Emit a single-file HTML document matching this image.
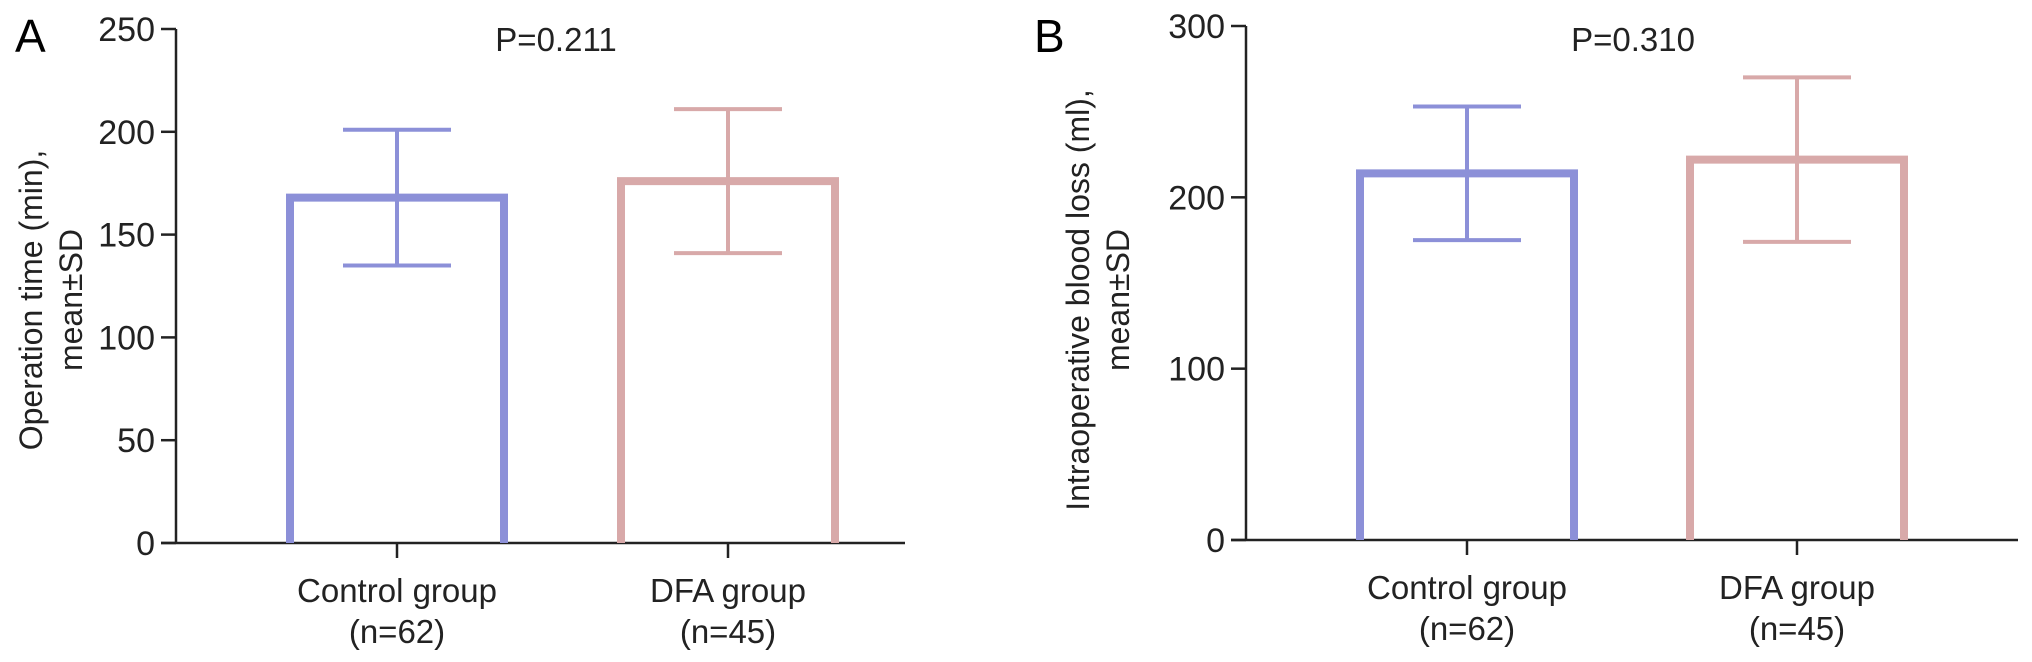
<!DOCTYPE html>
<html><head><meta charset="utf-8"><style>
body{margin:0;background:#fff;}
svg{display:block;font-family:"Liberation Sans",Arial,sans-serif;}
</style></head><body>
<svg id="fig" width="2032" height="662"></svg>
<script>
const categories=["Control group","DFA group"];
const nLabels=["(n=62)","(n=45)"];
const opMeans=[168,176];
const opSD=[33,35];
const opTicks=[0,50,100,150,200,250];
const blMeans=[214,222];
const blSD=[39,48];
const blTicks=[0,100,200,300];
const colors=["#8c90d8","#d8a9a9"];
const NS="http://www.w3.org/2000/svg";
const svg=document.getElementById('fig');
function mk(tag,attrs,parent,text){const e=document.createElementNS(NS,tag);for(const k in attrs)e.setAttribute(k,attrs[k]);if(text!==undefined)e.textContent=text;(parent||svg).appendChild(e);return e;}
function panel(cfg){
  const g=mk('g',{});
  
  
  const ymax=cfg.ticks[cfg.ticks.length-1];
  const y=v=>cfg.y0-(cfg.y0-cfg.yTop)*v/ymax;
  const l=mk('text',{x:cfg.letterX,y:52,'font-size':46},g,cfg.letter);
  
  const ax=mk('line',{x1:cfg.ax,x2:cfg.ax,y1:cfg.yTop,y2:cfg.y0,stroke:'#222','stroke-width':2.5},g);
  
  const xa=mk('line',{x1:cfg.ax-15,x2:cfg.xEnd,y1:cfg.y0,y2:cfg.y0,stroke:'#222','stroke-width':2.5},g);
  
  cfg.ticks.forEach(t=>{
    mk('line',{x1:cfg.ax-15,x2:cfg.ax,y1:y(t),y2:y(t),stroke:'#222','stroke-width':2.5},g);
    const tl=mk('text',{x:cfg.ax-21,y:y(t)+12,'font-size':34,'text-anchor':'end',fill:'#222'},g,t);
    
  });
  const yt=mk('text',{transform:`translate(${cfg.titleX},${cfg.titleY}) rotate(-90)`,'font-size':32,'text-anchor':'middle',fill:'#222'},g);
  
  mk('tspan',{x:0,dy:0},yt,cfg.title1);
  mk('tspan',{x:0,dy:40},yt,'mean±SD');
  const p=mk('text',{x:cfg.pX,y:51,'font-size':33,'text-anchor':'middle',fill:'#222'},g,cfg.p);
  
  const bw=cfg.bw;
  categories.forEach((c,i)=>{
    const cx=cfg.cx[i], m=cfg.means[i], s=cfg.sd[i];
    const b=mk('path',{d:`M${cx-bw/2},${cfg.y0} V${y(m)} H${cx+bw/2} V${cfg.y0}`,fill:'none',stroke:colors[i],'stroke-width':8},g);
    
    const e=mk('path',{d:`M${cx},${y(m+s)} V${y(m-s)} M${cx-54},${y(m+s)} H${cx+54} M${cx-54},${y(m-s)} H${cx+54}`,fill:'none',stroke:colors[i],'stroke-width':4},g);
    
    mk('line',{x1:cx,x2:cx,y1:cfg.y0,y2:cfg.y0+15,stroke:'#222','stroke-width':2.5},g);
    const xl=mk('text',{x:cx,y:cfg.y0+59,'font-size':33,'text-anchor':'middle',fill:'#222'},g,c);
    
    const nl=mk('text',{x:cx,y:cfg.y0+100,'font-size':33,'text-anchor':'middle',fill:'#222'},g,nLabels[i]);
    
  });
}
panel({name:'panel-a-operation-time',letter:'A',letterX:15,ax:176,xEnd:905,y0:543,yTop:29,ticks:opTicks,means:opMeans,sd:opSD,cx:[397,728],bw:214,titleX:42,titleY:300,title1:'Operation time (min),',p:'P=0.211',pX:556});
panel({name:'panel-b-blood-loss',letter:'B',letterX:1034,ax:1246,xEnd:2018,y0:540,yTop:26,ticks:blTicks,means:blMeans,sd:blSD,cx:[1467,1797],bw:214,titleX:1089,titleY:300,title1:'Intraoperative blood loss (ml),',p:'P=0.310',pX:1633});
</script>
</body></html>
